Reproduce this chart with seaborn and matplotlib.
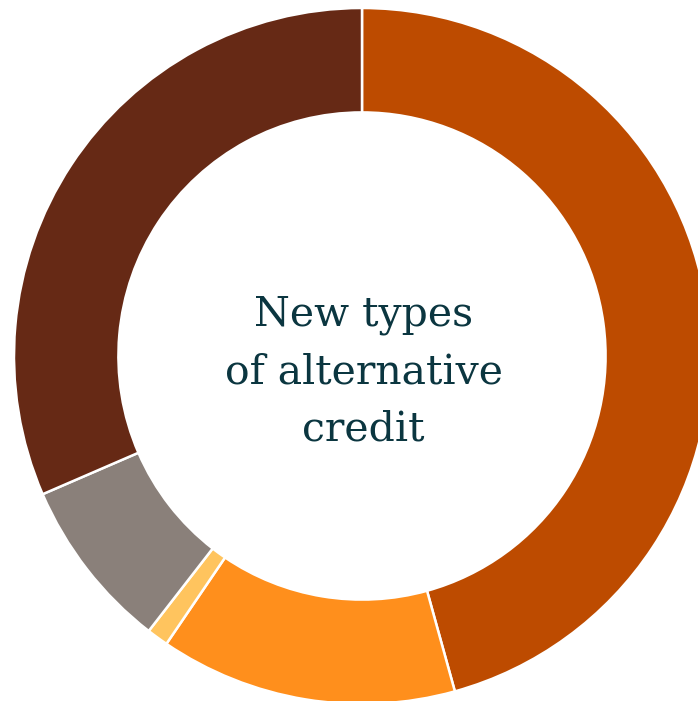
import matplotlib
matplotlib.use("Agg")
import matplotlib.pyplot as plt
import seaborn as sns

categories = ["Segment A", "Segment B", "Segment C", "Segment D", "Segment E"]
values = [45.7, 13.8, 1.0, 8.0, 31.5]
colors = ["#BD4B00", "#FF8F1C", "#FFC45E", "#8A807A", "#662915"]
center_label = "New types\nof alternative\ncredit"

sns.set_theme(style="white")
plt.rcParams["font.family"] = ["DejaVu Serif", "Liberation Serif"]

fig = plt.figure(figsize=(6.98, 7.01), dpi=100)
ax = fig.add_axes([0, 0, 1, 1])
ax.pie(values, colors=colors, startangle=90, counterclock=False,
       radius=1.0,
       wedgeprops=dict(width=0.3, edgecolor="white", linewidth=1.8))
ax.set_xlim(-362 / 348, (698 - 362) / 348)
ax.set_ylim(-(701 - 356) / 348, 356 / 348)
ax.set_aspect("auto")
ax.axis("off")
ax.text(0.005, -0.046, center_label, ha="center", va="center",
        fontsize=29.5, color="#0B3640", linespacing=1.55)
fig.savefig("out.png", dpi=100)
